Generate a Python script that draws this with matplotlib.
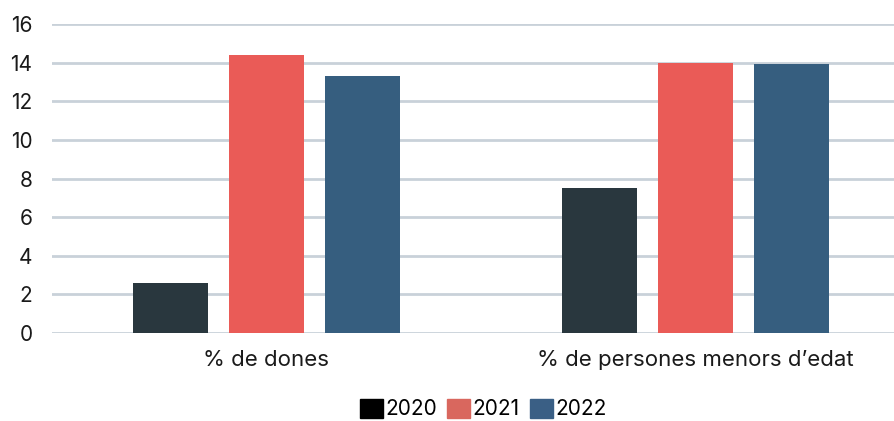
import matplotlib.pyplot as plt
import numpy as np
from matplotlib.patches import Patch

plt.rcParams['font.family'] = ['Inter', 'DejaVu Sans']

categories = ["% de dones", "% de persones menors d\u2019edat"]
years = ["2020", "2021", "2022"]
values = {
    "2020": [2.6, 7.5],
    "2021": [14.4, 14.0],
    "2022": [13.3, 13.95],
}
bar_colors = ["#29373e", "#ea5b57", "#365e7f"]
legend_colors = ["#000000", "#d9675e", "#3a5f85"]

fig = plt.figure(figsize=(8.95, 4.21), dpi=100)
ax = fig.add_axes([0.058, 0.209, 0.942, 0.734])

x = np.arange(len(categories))
width = 0.175
step = 0.224
for i, (yr, col) in enumerate(zip(years, bar_colors)):
    ax.bar(x + (i - 1) * step, values[yr], width, color=col, zorder=3)

ax.set_xlim(-0.5, 1.466)
ax.set_ylim(0, 16)
ax.set_yticks(range(0, 17, 2))
ax.yaxis.grid(True, color="#c9d1d9", linewidth=2, zorder=0)
ax.set_xticks(x)
ax.set_xticklabels(categories, fontsize=16, color="#1a1a1a")
ax.tick_params(axis="y", length=0, labelsize=15, labelcolor="#1a1a1a", pad=14)
ax.tick_params(axis="x", length=0, pad=12)
for s in ax.spines.values():
    s.set_visible(False)

handles = [Patch(color=c, label=y) for y, c in zip(years, legend_colors)]
fig.legend(handles=handles, loc="center", bbox_to_anchor=(0.54, 0.028), ncol=3,
           frameon=False, fontsize=15, handlelength=1.1, handleheight=1.0,
           handletextpad=0.1, columnspacing=0.5)

fig.savefig("out.png", dpi=100)
